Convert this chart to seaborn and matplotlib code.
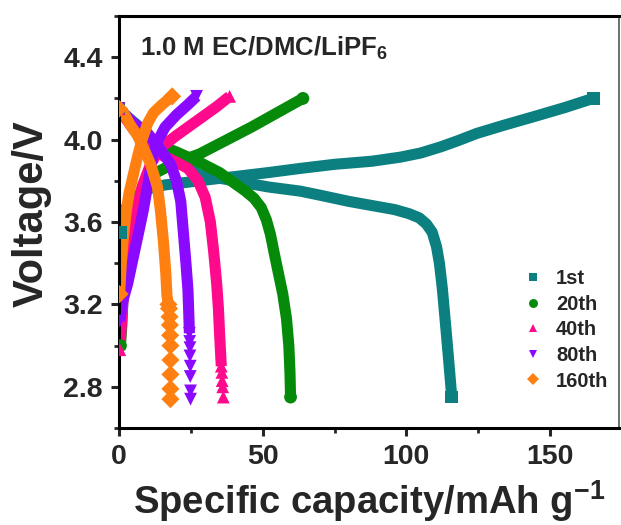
import matplotlib
matplotlib.use("Agg")
import matplotlib.pyplot as plt
import pandas as pd
import seaborn as sns
from matplotlib.ticker import MultipleLocator, FormatStrFormatter

# ---- data: capacity (mAh/g) and voltage (V) for each cycle ----
cycles = ["1st", "20th", "40th", "80th", "160th"]

# 1st cycle
chg_cap_1st = [0.5, 2, 5, 10, 16, 22, 28, 40, 52, 63, 75, 88, 98, 105, 112, 118, 124.5, 134, 144, 155, 165]
chg_v_1st = [3.55, 3.66, 3.72, 3.76, 3.78, 3.79, 3.80, 3.82, 3.84, 3.86, 3.88, 3.895, 3.915, 3.935,
             3.965, 3.995, 4.03, 4.07, 4.11, 4.155, 4.20]
dis_cap_1st = [0, 3, 6.4, 12, 18, 23, 28, 40, 52, 63, 70, 80, 90, 96, 101, 104.5, 107, 109, 110.5,
               111.5, 112.5, 113.4, 114.6, 115.8]
dis_v_1st = [4.15, 4.11, 4.07, 3.99, 3.92, 3.87, 3.83, 3.80, 3.77, 3.75, 3.73, 3.70, 3.675, 3.66,
             3.64, 3.62, 3.59, 3.55, 3.48, 3.40, 3.28, 3.14, 2.95, 2.75]
tail_cap_1st = []
tail_v_1st = []

# 20th cycle
chg_cap_20th = [0.5, 1, 1.6, 3, 5, 8.5, 13, 20, 28, 37, 46, 55, 64]
chg_v_20th = [3.0, 3.1, 3.3, 3.48, 3.6, 3.75, 3.84, 3.89, 3.93, 3.995, 4.06, 4.13, 4.20]
dis_cap_20th = [0, 5, 10, 14.4, 20, 28, 35, 40, 44, 47, 49.5, 51.3, 52.7, 54, 55.5, 57, 58.3,
                59.1, 59.5, 59.7]
dis_v_20th = [4.15, 4.06, 4.0, 3.97, 3.94, 3.89, 3.84, 3.79, 3.75, 3.715, 3.67, 3.61, 3.54,
              3.45, 3.35, 3.25, 3.13, 3.0, 2.87, 2.75]
tail_cap_20th = []
tail_v_20th = []

# 40th cycle
chg_cap_40th = [0.3, 0.8, 1.8, 3, 5, 8, 11, 14.4, 20, 28, 34, 38.5]
chg_v_40th = [2.98, 3.1, 3.3, 3.45, 3.6, 3.77, 3.88, 3.96, 4.02, 4.10, 4.16, 4.21]
dis_cap_40th = [0, 5, 10, 15.5, 20, 24, 27.5, 30, 31.8, 33, 34, 34.6, 35.0, 35.3, 35.6]
dis_v_40th = [4.15, 4.05, 3.98, 3.92, 3.89, 3.86, 3.80, 3.72, 3.60, 3.45, 3.30, 3.18, 3.06, 2.98, 2.90]
tail_cap_40th = [35.8, 35.9, 36.1, 36.3]
tail_v_40th = [2.87, 2.83, 2.80, 2.75]

# 80th cycle
chg_cap_80th = [0.3, 1, 3, 5, 7, 8.5, 10, 11.5, 13, 16, 20, 24, 27]
chg_v_80th = [3.12, 3.2, 3.3, 3.43, 3.56, 3.66, 3.78, 3.9, 3.98, 4.06, 4.12, 4.17, 4.21]
dis_cap_80th = [0, 5, 10, 14, 18, 20, 21.5, 22.4, 23.3, 24, 24.3, 24.5]
dis_v_80th = [4.15, 4.08, 4.03, 3.96, 3.88, 3.80, 3.70, 3.55, 3.40, 3.27, 3.15, 3.06]
tail_cap_80th = [24.6, 24.7, 24.7, 24.8, 24.8, 24.9, 24.9]
tail_v_80th = [3.02, 2.99, 2.95, 2.90, 2.85, 2.78, 2.74]

# 160th cycle
chg_cap_160th = [0.2, 0.8, 1.5, 2.5, 3.5, 5, 6.5, 8, 10, 12, 15, 18.5]
chg_v_160th = [3.25, 3.4, 3.52, 3.65, 3.74, 3.83, 3.92, 4.0, 4.08, 4.13, 4.17, 4.21]
dis_cap_160th = [0, 1.6, 4, 6.4, 8.5, 11, 13.4, 14.4, 15.5, 16.3, 16.7, 17.2]
dis_v_160th = [4.15, 4.13, 4.07, 4.02, 3.96, 3.88, 3.77, 3.66, 3.50, 3.35, 3.24, 3.20]
tail_cap_160th = [17.4, 17.6, 17.7, 17.8, 17.9, 17.9, 17.9, 17.9, 17.9]
tail_v_160th = [3.18, 3.14, 3.10, 3.05, 3.00, 2.93, 2.86, 2.79, 2.74]

palette = {"1st": "#0C8080", "20th": "#068A0A", "40th": "#FF0A8C",
           "80th": "#8A0AFF", "160th": "#FF8010"}
marker_map = {"1st": "s", "20th": "o", "40th": "^", "80th": "v", "160th": "D"}

series = {
    "1st": (chg_cap_1st, chg_v_1st, dis_cap_1st, dis_v_1st, tail_cap_1st, tail_v_1st),
    "20th": (chg_cap_20th, chg_v_20th, dis_cap_20th, dis_v_20th, tail_cap_20th, tail_v_20th),
    "40th": (chg_cap_40th, chg_v_40th, dis_cap_40th, dis_v_40th, tail_cap_40th, tail_v_40th),
    "80th": (chg_cap_80th, chg_v_80th, dis_cap_80th, dis_v_80th, tail_cap_80th, tail_v_80th),
    "160th": (chg_cap_160th, chg_v_160th, dis_cap_160th, dis_v_160th, tail_cap_160th, tail_v_160th),
}

rows = []
for cyc, (cc, cv, dc, dv, tc, tv) in series.items():
    rows += [dict(cycle=cyc, step="charge", capacity=c, voltage=v) for c, v in zip(cc, cv)]
    rows += [dict(cycle=cyc, step="discharge", capacity=c, voltage=v) for c, v in zip(dc, dv)]
    rows += [dict(cycle=cyc, step="tail", capacity=c, voltage=v) for c, v in zip(tc, tv)]
df = pd.DataFrame(rows)

# ---- style ----
sns.set_style("ticks")
plt.rcParams["font.family"] = ["Liberation Sans", "DejaVu Sans"]
plt.rcParams["font.weight"] = "bold"
plt.rcParams["axes.labelweight"] = "bold"
plt.rcParams["mathtext.fontset"] = "custom"
plt.rcParams["mathtext.rm"] = "Liberation Sans:bold"
plt.rcParams["mathtext.bf"] = "Liberation Sans:bold"

fig = plt.figure(figsize=(6.21, 5.25), dpi=100)
ax = fig.add_axes([0.1916, 0.1848, 0.8052, 0.7847])

# dense-marker curves drawn as thick lines
for cyc in cycles:
    for step in ["charge", "discharge"]:
        sub = df[(df.cycle == cyc) & (df.step == step)]
        sns.lineplot(data=sub, x="capacity", y="voltage", sort=False, estimator=None,
                     color=palette[cyc], linewidth=8.0, solid_capstyle="butt",
                     solid_joinstyle="round", legend=False, ax=ax)

# individual markers: curve ends and sparse low-voltage tails
ends = []
for cyc in cycles:
    for step in ["charge", "discharge"]:
        sub = df[(df.cycle == cyc) & (df.step == step)]
        ends.append(sub.iloc[[0, -1]])
pts = pd.concat(ends + [df[df.step == "tail"]], ignore_index=True)
pts["cycle"] = pd.Categorical(pts["cycle"], categories=cycles, ordered=True)
sns.scatterplot(data=pts, x="capacity", y="voltage", hue="cycle", style="cycle",
                palette=palette, markers=marker_map, hue_order=cycles, style_order=cycles,
                s=85, linewidth=0, ax=ax, zorder=5)

ax.set_xlim(0, 174)
ax.set_ylim(2.6, 4.6)
ax.xaxis.set_major_locator(MultipleLocator(50))
ax.xaxis.set_minor_locator(MultipleLocator(25))
ax.yaxis.set_major_locator(MultipleLocator(0.4))
ax.yaxis.set_minor_locator(MultipleLocator(0.2))
ax.yaxis.set_major_formatter(FormatStrFormatter("%.1f"))
ax.tick_params(which="major", direction="out", length=5.5, width=2.2, labelsize=20.5, pad=6)
ax.tick_params(which="minor", direction="out", length=3.5, width=2.0)
ax.tick_params(top=False, right=False, which="both")
for lab in ax.get_xticklabels() + ax.get_yticklabels():
    lab.set_fontweight("bold")

for side in ["left", "bottom", "top"]:
    ax.spines[side].set_linewidth(2.2)
    ax.spines[side].set_color("black")
ax.spines["right"].set_linewidth(1.2)
ax.spines["right"].set_color("#555555")

ax.set_xlabel("Specific capacity/mAh g$^{-1}$", fontsize=27.5, fontweight="bold", labelpad=6)
ax.set_ylabel("Voltage/V", fontsize=30, fontweight="bold")
ax.yaxis.set_label_coords(-0.135, 0.52)

ax.text(0.042, 0.922, "1.0 M EC/DMC/LiPF$_{6}$", transform=ax.transAxes,
        fontsize=18.5, fontweight="bold", va="center", ha="left")

leg = ax.legend(loc="upper left", bbox_to_anchor=(0.808, 0.386), frameon=False,
                fontsize=14.5, handlelength=1.0, handletextpad=0.65, borderpad=0,
                borderaxespad=0, labelspacing=0.33, markerscale=0.7)
for t in leg.get_texts():
    t.set_fontweight("bold")

fig.savefig("out.png", dpi=100)
